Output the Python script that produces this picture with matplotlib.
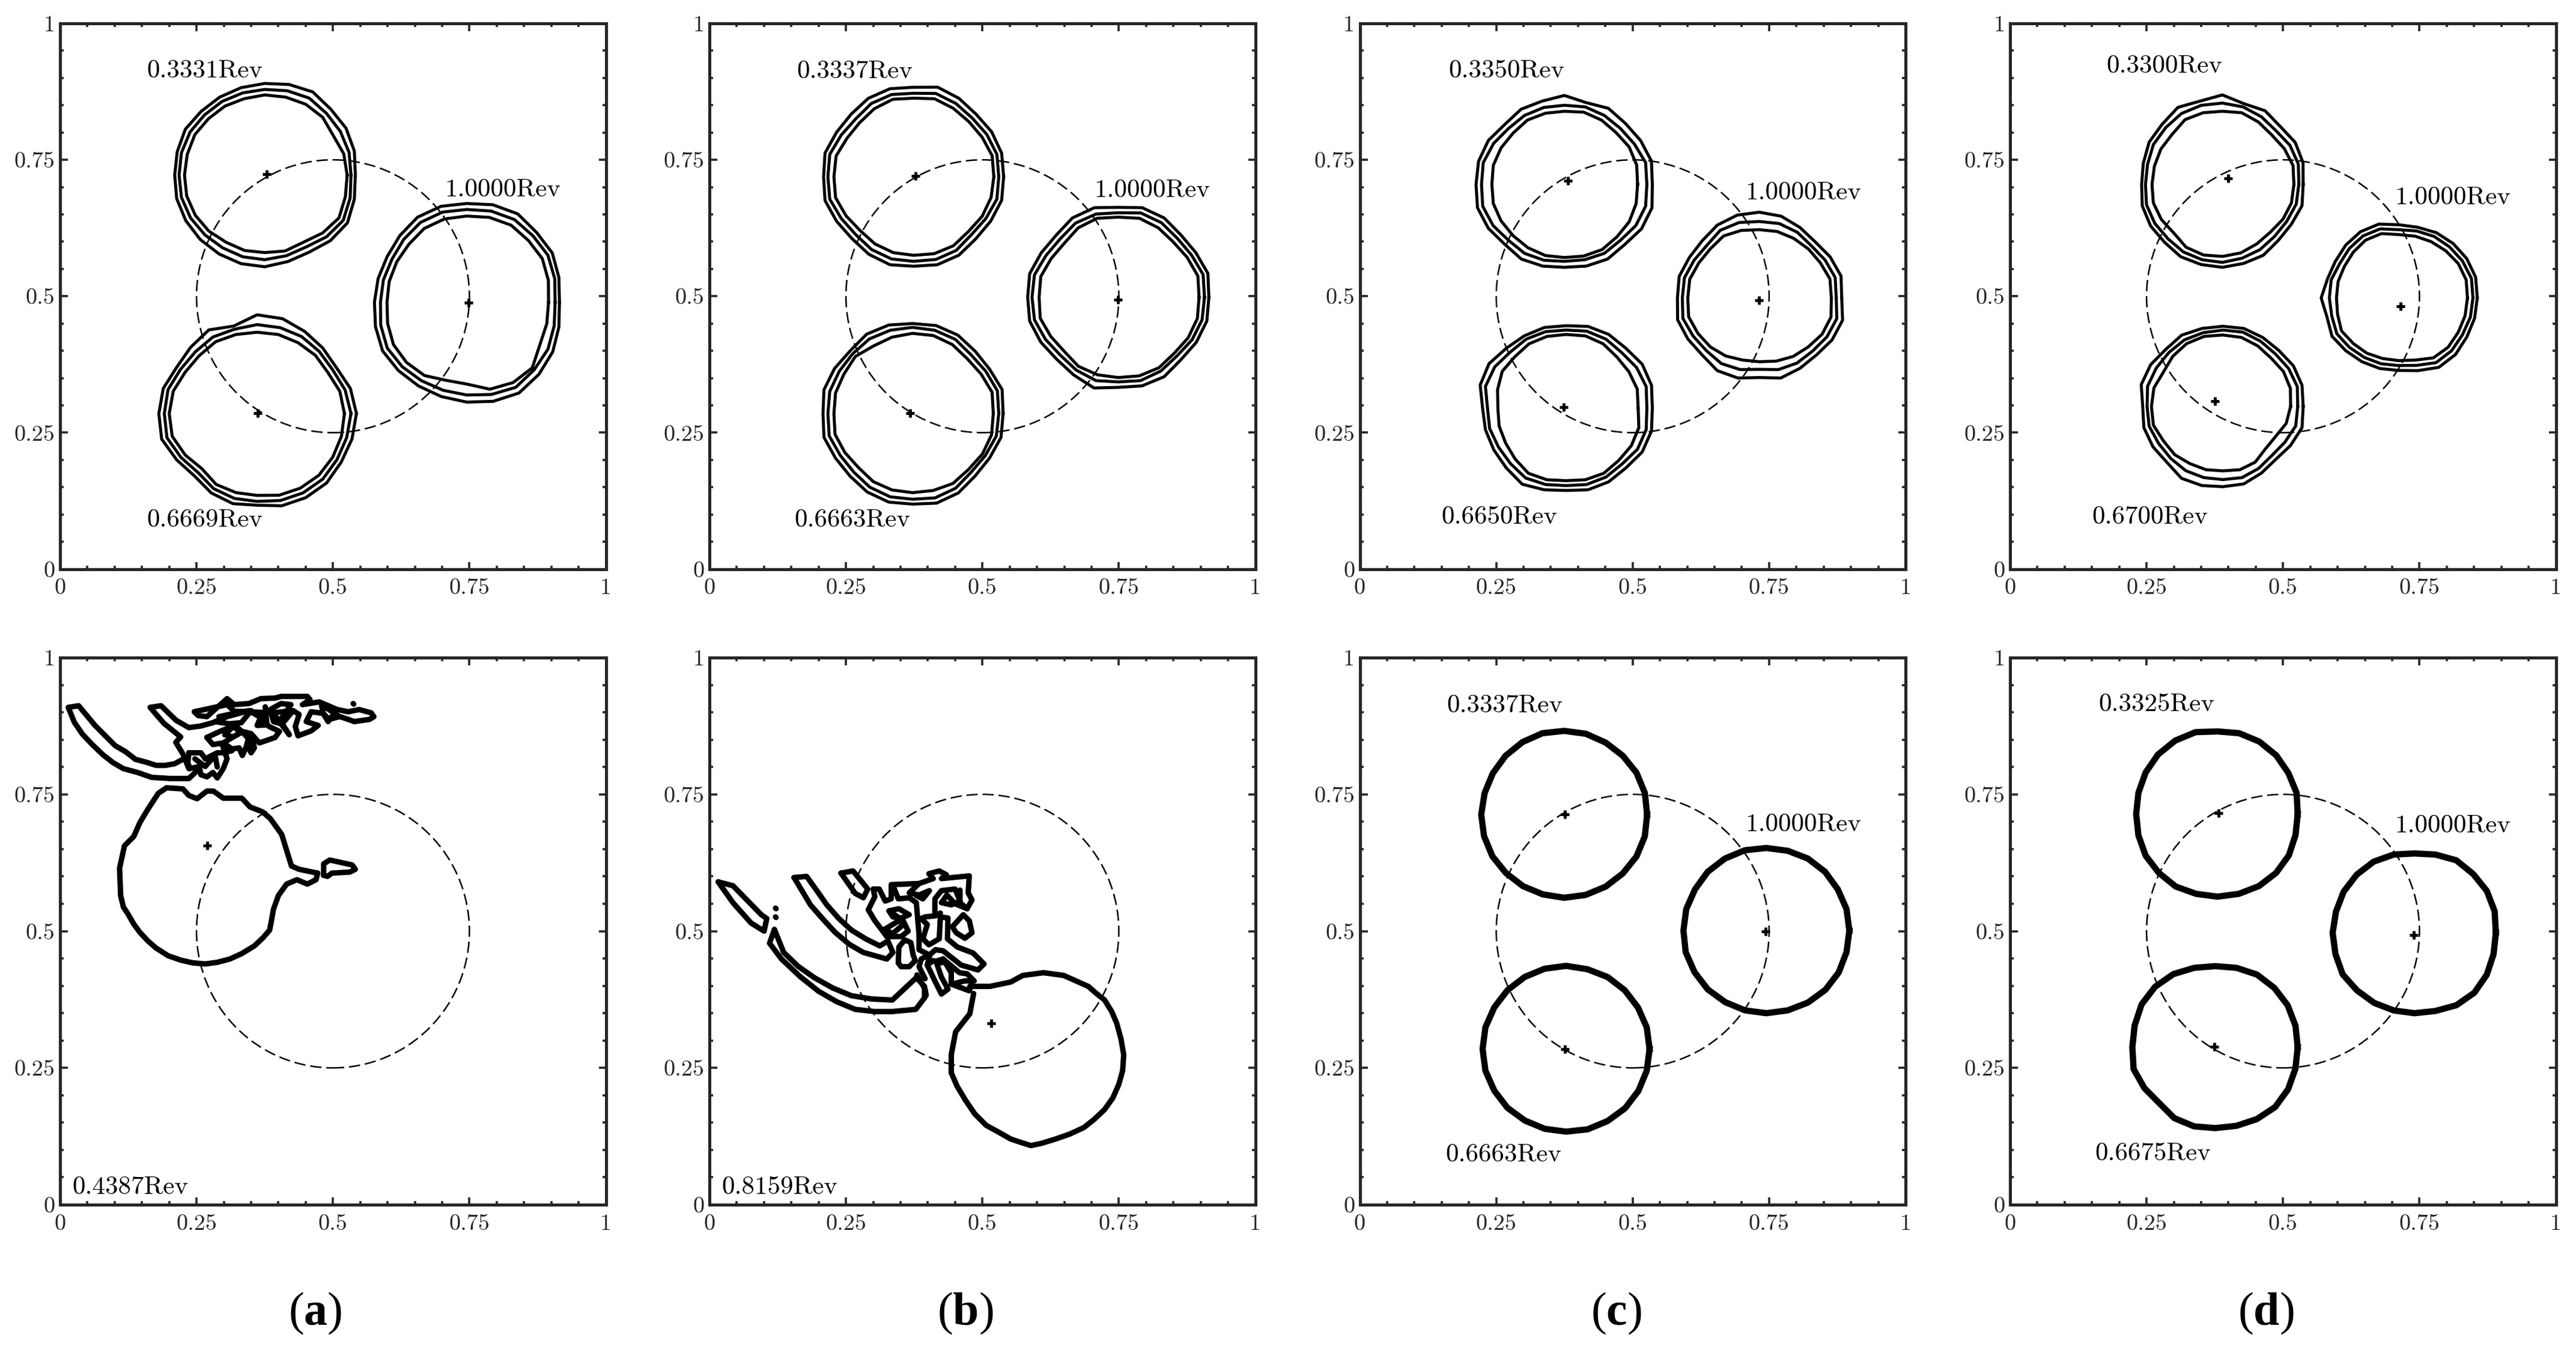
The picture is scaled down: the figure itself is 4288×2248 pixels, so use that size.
import numpy as np
import matplotlib
matplotlib.use('Agg')
import matplotlib.pyplot as plt
from matplotlib.patches import Circle
from matplotlib.ticker import MultipleLocator

plt.rcParams['mathtext.fontset'] = 'custom'
plt.rcParams['mathtext.bf'] = 'Liberation Serif:bold'
plt.rcParams['mathtext.rm'] = 'Liberation Serif'

tick_vals = [0, 0.25, 0.5, 0.75, 1]
tick_labels = ['0', '0.25', '0.5', '0.75', '1']
sub_labels = ['a', 'b', 'c', 'd']

angles = np.deg2rad(np.arange(0, 360, 15))

# panel a, top
a1_A_c = (0.375, 0.722)
a1_A_out = [.166,.170,.172,.171,.176,.172,.168,.166,.165,.165,.168,.166,.165,.167,.167,.167,.167,.168,.168,.164,.163,.170,.175,.170]
a1_A_mid = [.158,.160,.160,.160,.163,.160,.157,.156,.156,.156,.158,.158,.157,.158,.157,.155,.154,.155,.155,.153,.152,.160,.166,.162]
a1_A_inn = [.151,.150,.145,.150,.150,.148,.147,.145,.146,.146,.148,.147,.147,.148,.147,.145,.142,.143,.142,.144,.142,.150,.157,.153]
a1_B_c = (0.745, 0.489)
a1_B_out = [.170,.175,.181,.181,.187,.185,.181,.182,.180,.173,.168,.168,.169,.173,.178,.177,.177,.179,.183,.188,.192,.187,.182,.175]
a1_B_mid = [.162,.167,.172,.172,.175,.173,.170,.171,.169,.163,.158,.158,.158,.163,.168,.167,.166,.167,.170,.175,.180,.175,.172,.166]
a1_B_inn = [.150,.155,.160,.160,.163,.161,.158,.158,.156,.150,.148,.147,.146,.150,.155,.156,.155,.148,.150,.165,.170,.170,.155,.152]
a1_C_c = (0.361, 0.285)
a1_C_out = [.182,.177,.168,.170,.174,.180,.181,.166,.177,.172,.170,.178,.180,.181,.170,.162,.168,.171,.168,.175,.178,.180,.178,.180]
a1_C_mid = [.172,.167,.160,.161,.163,.163,.163,.160,.162,.160,.162,.169,.170,.171,.161,.153,.159,.161,.161,.165,.168,.170,.169,.170]
a1_C_inn = [.160,.157,.150,.151,.150,.150,.149,.150,.152,.150,.152,.159,.161,.161,.152,.143,.150,.150,.150,.155,.158,.160,.160,.160]
a1_pts_x = [.379, .749, .362]
a1_pts_y = [.724, .488, .286]

# panel b, top
b1_A_c = (0.374, 0.719)
b1_A_out = [.165,.167,.165,.162,.166,.170,.164,.167,.166,.162,.163,.168,.165,.168,.163,.160,.164,.167,.164,.167,.166,.161,.163,.167]
b1_A_mid = [.156,.158,.155,.152,.155,.158,.153,.156,.155,.150,.153,.159,.157,.159,.153,.150,.154,.156,.155,.157,.156,.150,.153,.158]
b1_A_inn = [.147,.149,.145,.143,.145,.148,.144,.147,.144,.140,.141,.147,.146,.148,.143,.139,.142,.144,.144,.146,.146,.142,.145,.147]
b1_B_c = (0.749, 0.498)
b1_B_out = [.166,.170,.164,.162,.168,.170,.165,.170,.168,.161,.163,.168,.166,.168,.164,.160,.164,.172,.165,.168,.168,.162,.165,.168]
b1_B_mid = [.158,.161,.155,.153,.158,.160,.155,.158,.157,.151,.153,.159,.158,.159,.154,.150,.154,.158,.155,.158,.156,.152,.156,.159]
b1_B_inn = [.148,.151,.146,.143,.147,.150,.147,.150,.147,.140,.142,.147,.145,.148,.143,.140,.146,.147,.147,.149,.149,.145,.148,.150]
b1_C_c = (0.372, 0.285)
b1_C_out = [.166,.170,.163,.162,.166,.167,.165,.168,.168,.162,.165,.168,.164,.168,.163,.162,.166,.168,.166,.170,.168,.162,.163,.168]
b1_C_mid = [.158,.161,.155,.152,.157,.158,.158,.158,.158,.155,.155,.157,.155,.158,.153,.152,.156,.158,.157,.160,.158,.152,.154,.159]
b1_C_inn = [.148,.151,.145,.142,.146,.148,.147,.145,.143,.148,.145,.146,.144,.147,.143,.140,.144,.145,.145,.146,.148,.145,.148,.150]
b1_pts_x = [.377, .749, .368]
b1_pts_y = [.720, .494, .286]

# panel c, top
c1_A_c = (0.375, 0.705)
c1_A_out = [.161,.165,.161,.158,.161,.155,.163,.158,.159,.155,.161,.163,.162,.165,.161,.155,.158,.155,.152,.155,.158,.156,.163,.166]
c1_A_mid = [.151,.154,.148,.145,.146,.147,.145,.146,.146,.145,.150,.154,.152,.155,.151,.145,.146,.144,.141,.143,.146,.145,.151,.154]
c1_A_inn = [.134,.137,.137,.134,.136,.137,.134,.135,.136,.133,.134,.135,.133,.135,.134,.133,.134,.135,.134,.136,.138,.136,.137,.136]
c1_B_c = (0.732, 0.497)
c1_B_out = [.151,.155,.150,.145,.149,.155,.157,.157,.154,.148,.148,.152,.150,.155,.151,.148,.154,.152,.146,.152,.149,.148,.154,.158]
c1_B_mid = [.141,.144,.139,.135,.139,.141,.140,.143,.143,.136,.138,.142,.141,.145,.140,.137,.139,.136,.131,.136,.138,.138,.143,.147]
c1_B_inn = [.132,.134,.129,.127,.126,.126,.125,.128,.131,.127,.128,.132,.131,.134,.130,.127,.123,.118,.117,.120,.124,.127,.133,.136]
c1_C_c = (0.378, 0.295)
c1_C_out = [.158,.162,.161,.155,.156,.155,.151,.153,.153,.155,.163,.163,.153,.153,.153,.155,.161,.155,.151,.155,.156,.155,.161,.162]
c1_C_mid = [.148,.152,.149,.144,.146,.146,.143,.145,.146,.145,.151,.153,.144,.145,.143,.144,.148,.145,.142,.145,.146,.145,.151,.152]
c1_C_inn = [.132,.135,.133,.132,.136,.137,.135,.136,.136,.133,.135,.130,.125,.127,.128,.132,.138,.136,.133,.136,.138,.136,.138,.138]
c1_pts_x = [.381, .731, .374]
c1_pts_y = [.712, .493, .297]

# panel d, top
d1_A_c = (0.389, 0.705)
d1_A_out = [.148,.153,.154,.150,.156,.153,.164,.158,.163,.156,.155,.150,.148,.152,.152,.150,.153,.152,.152,.150,.150,.145,.146,.151]
d1_A_mid = [.140,.144,.143,.139,.143,.147,.149,.150,.150,.147,.146,.142,.141,.144,.143,.141,.143,.143,.143,.140,.138,.135,.136,.140]
d1_A_inn = [.131,.134,.131,.128,.132,.136,.134,.136,.137,.130,.130,.129,.129,.131,.129,.126,.133,.134,.132,.130,.126,.124,.128,.131]
d1_B_c = (0.712, 0.497)
d1_B_out = [.144,.146,.144,.141,.138,.134,.134,.140,.140,.137,.134,.135,.142,.136,.141,.137,.135,.134,.133,.138,.147,.147,.144,.144]
d1_B_mid = [.136,.138,.135,.132,.130,.127,.125,.131,.131,.128,.125,.128,.127,.127,.131,.128,.126,.125,.124,.128,.137,.137,.135,.136]
d1_B_inn = [.126,.128,.126,.122,.119,.117,.116,.122,.122,.118,.115,.115,.114,.116,.121,.118,.117,.115,.115,.118,.127,.128,.126,.126]
d1_C_c = (0.390, 0.298)
d1_C_out = [.147,.150,.149,.145,.146,.148,.147,.148,.151,.148,.153,.155,.147,.150,.148,.145,.152,.150,.147,.147,.141,.137,.143,.150]
d1_C_mid = [.137,.141,.139,.136,.138,.141,.140,.140,.141,.140,.141,.143,.139,.140,.136,.135,.136,.135,.134,.135,.131,.127,.131,.138]
d1_C_inn = [.124,.128,.128,.125,.128,.131,.131,.133,.133,.130,.126,.131,.131,.132,.126,.125,.121,.120,.118,.120,.118,.110,.111,.120]
d1_pts_x = [.400, .716, .375]
d1_pts_y = [.716, .482, .308]

# panel c, bottom
c2_A_c = (0.3745, 0.713)
c2_A = [.152,.153,.153,.152,.152,.153,.153,.154,.153,.152,.151,.151,.152,.152,.152,.151,.151,.151,.152,.152,.152,.152,.153,.153]
c2_B_c = (0.745, 0.501)
c2_B = [.152,.152,.151,.152,.152,.151,.151,.152,.152,.152,.151,.152,.152,.153,.152,.152,.151,.151,.151,.151,.152,.153,.153,.152]
c2_C_c = (0.378, 0.2845)
c2_C = [.153,.153,.152,.152,.152,.151,.152,.152,.152,.152,.152,.153,.153,.153,.152,.152,.151,.151,.151,.152,.152,.153,.153,.153]
c2_pts_x = [.3755, .744, .3755]
c2_pts_y = [.714, .499, .284]

# panel d, bottom
d2_A_c = (0.380, 0.714)
d2_A = [.147,.150,.150,.152,.153,.153,.151,.155,.155,.154,.152,.150,.149,.150,.152,.152,.153,.151,.151,.151,.152,.152,.151,.148]
d2_B_c = (0.741, 0.497)
d2_B = [.149,.152,.153,.152,.153,.148,.145,.148,.150,.150,.150,.149,.150,.150,.152,.149,.148,.147,.147,.148,.153,.155,.153,.150]
d2_C_c = (0.376, 0.288)
d2_C = [.151,.152,.153,.153,.153,.150,.148,.150,.154,.156,.156,.153,.152,.155,.150,.145,.150,.150,.148,.149,.152,.155,.154,.152]
d2_pts_x = [.382, .740, .374]
d2_pts_y = [.716, .493, .289]

# panel a, bottom: traced outlines
a2_main_x = [.472,.438,.424,.415,.406,.385,.371,.348,.333,.299,.281,.269,.251,.236,.225,.195,.180,.161,.146,.135,.118,.109,.111,.116,.124,.135,.146,.161,.176,.198,.221,.243,.266,.288,.311,.333,.356,.372,.384,.388,.391,.400,.415,.434,.453,.469,.472]
a2_main_y = [.606,.613,.619,.648,.677,.706,.718,.727,.743,.743,.756,.756,.742,.748,.760,.762,.752,.723,.698,.673,.656,.615,.565,.544,.532,.513,.498,.482,.469,.455,.447,.442,.440,.443,.449,.459,.473,.488,.502,.523,.540,.565,.586,.594,.586,.594,.606]
a2_isle_x = [.483,.483,.494,.535,.541,.531,.498,.490,.483]
a2_isle_y = [.602,.623,.630,.621,.613,.608,.606,.600,.602]
a2_band1_x = [.251,.236,.202,.168,.142,.116,.097,.079,.060,.041,.026,.015,.034,.064,.082,.101,.120,.138,.157,.176,.193,.210,.232]
a2_band1_y = [.793,.779,.779,.781,.790,.797,.808,.822,.840,.860,.882,.909,.912,.876,.858,.839,.828,.814,.809,.803,.803,.806,.818]
a2_band2_x = [.236,.225,.212,.221,.190,.165,.185,.213,.236,.258,.280,.306,.346,.365,.383,.402,.394,.365,.350,.334,.299]
a2_band2_y = [.797,.824,.845,.855,.880,.909,.912,.885,.872,.875,.881,.892,.903,.892,.874,.865,.854,.844,.861,.865,.844]
a2_m1_x = [.246,.253,.269,.306,.319,.346,.368,.394,.405,.453,.458,.444,.475,.508,.528,.548,.570,.575,.567,.539,.528,.501,.491,.482,.460,.451,.473,.460,.436,.431,.438,.427,.407,.420,.390]
a2_m1_y = [.901,.894,.892,.925,.914,.916,.925,.926,.929,.929,.923,.914,.919,.905,.901,.905,.899,.892,.887,.883,.887,.896,.883,.898,.901,.883,.876,.866,.857,.874,.896,.903,.879,.859,.899]
a2_m1b_x = [.246,.306,.319,.390,.427]
a2_m1b_y = [.901,.914,.902,.899,.903]
a2_m3_x = [.269,.295,.321,.335,.345,.341,.334,.328,.315,.299,.280,.269]
a2_m3_y = [.854,.866,.876,.863,.852,.837,.821,.835,.833,.844,.841,.854]
a2_m4_x = [.352,.356,.350,.345,.352]
a2_m4_y = [.852,.835,.826,.835,.852]
a2_m5_x = [.236,.258,.266,.288,.302,.315,.297,.306,.299,.288,.280,.269,.258,.255,.238,.234,.236]
a2_m5_y = [.826,.826,.815,.826,.826,.830,.841,.815,.797,.780,.790,.782,.786,.801,.797,.808,.826]
a2_m6_x = [.247,.266,.284,.288]
a2_m6_y = [.815,.801,.821,.800]
a2_m7_x = [.376,.379,.361,.368]
a2_m7_y = [.910,.877,.876,.892]
a2_m8_x = [.390,.405,.391,.385,.405,.423,.405]
a2_m8_y = [.899,.879,.883,.905,.916,.914,.888]
a2_m9_x = [.291,.332,.350,.332,.310,.284]
a2_m9_y = [.892,.901,.903,.881,.879,.883]
a2_m10_x = [.302,.317,.332,.317,.302]
a2_m10_y = [.859,.855,.863,.874,.859]
a2_m11_x = [.479,.482,.493,.512,.479]
a2_m11_y = [.914,.898,.887,.892,.914]
a2_dot_x = [.537,.538]
a2_dot_y = [.916,.915]
a2_pts_x = [.270]
a2_pts_y = [.656]

# panel b, bottom: traced outlines
b2_main_x = [.477,.514,.552,.574,.612,.649,.694,.709,.724,.737,.746,.754,.759,.757,.750,.739,.724,.705,.686,.660,.634,.608,.589,.570,.552,.529,.507,.486,.469,.454,.443,.443,.451,.477,.484]
b2_main_y = [.399,.399,.407,.419,.424,.419,.399,.386,.374,.353,.332,.303,.274,.245,.220,.195,.174,.156,.141,.129,.120,.112,.108,.114,.120,.133,.145,.166,.191,.216,.241,.274,.316,.349,.386]
b2_band1_x = [.016,.043,.095,.105,.100,.076,.043,.016]
b2_band1_y = [.590,.583,.530,.523,.500,.515,.552,.590]
b2_dot1_x = [.121,.122]
b2_dot1_y = [.542,.541]
b2_dot2_x = [.121,.122]
b2_dot2_y = [.526,.525]
b2_band2_x = [.119,.136,.162,.192,.226,.260,.297,.335,.379,.394,.394,.378,.335,.302,.267,.233,.200,.166,.132,.110,.119]
b2_band2_y = [.503,.461,.436,.415,.396,.382,.376,.374,.415,.399,.378,.357,.353,.353,.357,.371,.390,.417,.449,.478,.503]
b2_band3_x = [.155,.178,.196,.215,.237,.260,.286,.312,.327,.336,.325,.282,.256,.230,.207,.185,.170,.155]
b2_band3_y = [.598,.600,.575,.548,.523,.502,.486,.473,.482,.461,.449,.461,.476,.498,.523,.548,.573,.598]
b2_band4_x = [.241,.263,.290,.282,.267,.241]
b2_band4_y = [.606,.610,.577,.561,.569,.606]
b2_m1_x = [.325,.303,.291,.303,.300,.311,.322,.333,.333,.384,.410,.402,.421,.434,.425,.476,.474,.481,.472,.459,.459]
b2_m1_y = [.490,.519,.539,.563,.577,.577,.555,.559,.585,.587,.596,.605,.610,.603,.596,.601,.570,.557,.541,.552,.575]
b2_m2_x = [.384,.366,.384,.403,.391,.379]
b2_m2_y = [.587,.570,.566,.574,.559,.565]
b2_m3_x = [.413,.413,.425,.450,.459,.443,.425,.435,.450,.472]
b2_m3_y = [.533,.559,.574,.577,.555,.548,.552,.566,.550,.541]
b2_m4_x = [.338,.346,.366,.379,.384,.384,.402,.388,.384,.395]
b2_m4_y = [.579,.559,.561,.552,.493,.466,.457,.449,.435,.413]
b2_m5_x = [.329,.347,.366,.351,.336,.329,.355,.364,.351,.325]
b2_m5_y = [.537,.541,.530,.524,.526,.537,.519,.500,.490,.490]
b2_m5b_x = [.322,.347,.355,.335,.322]
b2_m5b_y = [.504,.519,.512,.495,.504]
b2_m6_x = [.346,.347,.358,.369,.373,.377,.366,.351,.346]
b2_m6_y = [.442,.471,.484,.479,.457,.446,.435,.435,.442]
b2_m7_x = [.388,.399,.391,.402,.421,.423,.437,.436,.454,.483,.503,.492,.461,.428,.414,.404,.399,.410,.425]
b2_m7_y = [.523,.512,.486,.475,.486,.526,.524,.486,.471,.460,.440,.429,.438,.464,.466,.457,.438,.446,.442]
b2_m8_x = [.399,.413,.425,.437,.425,.415,.428,.443,.443,.468,.485,.472,.458,.428]
b2_m8_y = [.438,.409,.385,.394,.416,.445,.449,.424,.403,.409,.409,.422,.424,.449]
b2_m9_x = [.445,.465,.476,.481,.468,.452,.445]
b2_m9_y = [.508,.530,.519,.497,.487,.497,.508]
b2_m10_x = [.388,.395,.414,.423]
b2_m10_y = [.523,.526,.528,.533]
b2_m11_x = [.443,.476,.480,.477]
b2_m11_y = [.403,.391,.400,.399]
b2_m12_x = [.380,.395,.397,.394]
b2_m12_y = [.420,.394,.383,.378]
b2_pts_x = [.516]
b2_pts_y = [.332]

# revolution labels
top_notes = [
    [('0.3331Rev', .159, .913), ('1.0000Rev', .705, .695), ('0.6669Rev', .159, .090)],
    [('0.3337Rev', .160, .912), ('1.0000Rev', .705, .694), ('0.6663Rev', .156, .090)],
    [('0.3350Rev', .163, .913), ('1.0000Rev', .706, .689), ('0.6650Rev', .150, .095)],
    [('0.3300Rev', .177, .922), ('1.0000Rev', .705, .681), ('0.6700Rev', .150, .095)],
]
bottom_notes = [
    [('0.4387Rev', .022, .031)],
    [('0.8159Rev', .022, .031)],
    [('0.3337Rev', .160, .912), ('1.0000Rev', .706, .695), ('0.6663Rev', .157, .091)],
    [('0.3325Rev', .162, .914), ('1.0000Rev', .705, .692), ('0.6675Rev', .156, .093)],
]

W, H = 4288, 2248
fig = plt.figure(figsize=(W / 100, H / 100), dpi=100)
lefts = [100, 1181, 2263.5, 3346]
rows = [(39, 947.6), (1095, 2006)]


def make_axes(col, row):
    x0 = lefts[col]
    y0, y1 = rows[row]
    ax = fig.add_axes([x0 / W, 1 - y1 / H, 908.5 / W, (y1 - y0) / H])
    ax.set_xlim(0, 1)
    ax.set_ylim(0, 1)
    ax.set_xticks(tick_vals)
    ax.set_yticks(tick_vals)
    ax.set_xticklabels(tick_labels, family='cmr10', fontsize=27.5, color='#262626')
    ax.set_yticklabels(tick_labels, family='cmr10', fontsize=27.5, color='#262626')
    ax.xaxis.set_minor_locator(MultipleLocator(0.05))
    ax.yaxis.set_minor_locator(MultipleLocator(0.05))
    ax.tick_params(which='both', direction='in', top=True, right=True, color='#262626', width=2.6)
    ax.tick_params(which='major', length=9)
    ax.tick_params(which='minor', length=4.5)
    ax.tick_params(axis='x', which='major', pad=11)
    ax.tick_params(axis='y', which='major', pad=6)
    for s in ax.spines.values():
        s.set_linewidth(3.6)
        s.set_color('#262626')
    ax.add_patch(Circle((0.5, 0.5), 0.25, fill=False, ec='k', lw=1.8, ls=(0, (7.5, 3.2))))
    return ax


def ring(ax, c, r, lw):
    r = np.array(r)
    x = c[0] + r * np.cos(angles)
    y = c[1] + r * np.sin(angles)
    ax.plot(np.append(x, x[0]), np.append(y, y[0]), color='k', lw=lw, solid_joinstyle='round')


def trace(ax, x, y, lw=6.5):
    ax.plot(x, y, color='k', lw=lw, solid_joinstyle='round', solid_capstyle='round')


def centroids(ax, x, y):
    ax.plot(x, y, ls='none', marker='+', color='k', ms=10, mew=3.5)


def notes(ax, items):
    for s, x, y in items:
        ax.text(x, y, s, family='cmr10', fontsize=31, color='k', va='center', ha='left')


top_rings = [
    [(a1_A_c, a1_A_out, a1_A_mid, a1_A_inn), (a1_B_c, a1_B_out, a1_B_mid, a1_B_inn), (a1_C_c, a1_C_out, a1_C_mid, a1_C_inn)],
    [(b1_A_c, b1_A_out, b1_A_mid, b1_A_inn), (b1_B_c, b1_B_out, b1_B_mid, b1_B_inn), (b1_C_c, b1_C_out, b1_C_mid, b1_C_inn)],
    [(c1_A_c, c1_A_out, c1_A_mid, c1_A_inn), (c1_B_c, c1_B_out, c1_B_mid, c1_B_inn), (c1_C_c, c1_C_out, c1_C_mid, c1_C_inn)],
    [(d1_A_c, d1_A_out, d1_A_mid, d1_A_inn), (d1_B_c, d1_B_out, d1_B_mid, d1_B_inn), (d1_C_c, d1_C_out, d1_C_mid, d1_C_inn)],
]
top_pts = [(a1_pts_x, a1_pts_y), (b1_pts_x, b1_pts_y), (c1_pts_x, c1_pts_y), (d1_pts_x, d1_pts_y)]

for i in range(4):
    ax = make_axes(i, 0)
    for c, r1, r2, r3 in top_rings[i]:
        ring(ax, c, r1, 3.6)
        ring(ax, c, r2, 3.6)
        ring(ax, c, r3, 3.6)
    centroids(ax, *top_pts[i])
    notes(ax, top_notes[i])

ax = make_axes(0, 1)
for x, y in [(a2_main_x, a2_main_y), (a2_isle_x, a2_isle_y), (a2_band1_x, a2_band1_y),
             (a2_band2_x, a2_band2_y), (a2_m1_x, a2_m1_y), (a2_m1b_x, a2_m1b_y), (a2_m3_x, a2_m3_y),
             (a2_m4_x, a2_m4_y), (a2_m5_x, a2_m5_y), (a2_m6_x, a2_m6_y), (a2_m7_x, a2_m7_y),
             (a2_m8_x, a2_m8_y), (a2_m9_x, a2_m9_y), (a2_m10_x, a2_m10_y), (a2_m11_x, a2_m11_y),
             (a2_dot_x, a2_dot_y)]:
    trace(ax, x, y)
centroids(ax, a2_pts_x, a2_pts_y)
notes(ax, bottom_notes[0])

ax = make_axes(1, 1)
for x, y in [(b2_main_x, b2_main_y), (b2_band1_x, b2_band1_y), (b2_dot1_x, b2_dot1_y), (b2_dot2_x, b2_dot2_y),
             (b2_band2_x, b2_band2_y), (b2_band3_x, b2_band3_y), (b2_band4_x, b2_band4_y),
             (b2_m1_x, b2_m1_y), (b2_m2_x, b2_m2_y), (b2_m3_x, b2_m3_y), (b2_m4_x, b2_m4_y),
             (b2_m5_x, b2_m5_y), (b2_m5b_x, b2_m5b_y), (b2_m6_x, b2_m6_y), (b2_m7_x, b2_m7_y),
             (b2_m8_x, b2_m8_y), (b2_m9_x, b2_m9_y), (b2_m10_x, b2_m10_y), (b2_m11_x, b2_m11_y),
             (b2_m12_x, b2_m12_y)]:
    trace(ax, x, y)
centroids(ax, b2_pts_x, b2_pts_y)
notes(ax, bottom_notes[1])

ax = make_axes(2, 1)
for c, r in [(c2_A_c, c2_A), (c2_B_c, c2_B), (c2_C_c, c2_C)]:
    ring(ax, c, r, 7.5)
centroids(ax, c2_pts_x, c2_pts_y)
notes(ax, bottom_notes[2])

ax = make_axes(3, 1)
for c, r in [(d2_A_c, d2_A), (d2_B_c, d2_B), (d2_C_c, d2_C)]:
    ring(ax, c, r, 7.5)
centroids(ax, d2_pts_x, d2_pts_y)
notes(ax, bottom_notes[3])

label_x = [525, 1607, 2690, 3772]
for s, x in zip(sub_labels, label_x):
    fig.text(x / W, 1 - 2187 / H, '($\\mathbf{%s}$)' % s, family='Liberation Serif',
             fontsize=56, color='k', ha='center', va='center')

plt.savefig('out.png', dpi=100)
